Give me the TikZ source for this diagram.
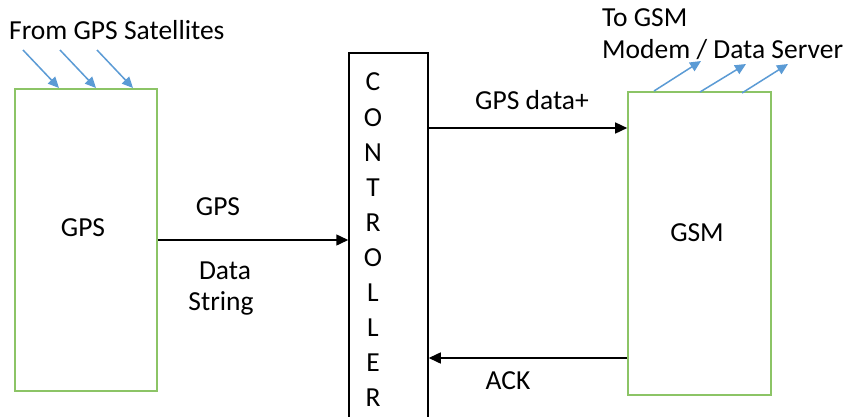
\documentclass[tikz,border=0pt]{standalone}
\usepackage{fontspec}
\setmainfont{Carlito}
\usetikzlibrary{arrows.meta}
\definecolor{boxgreen}{RGB}{140,196,102}
\definecolor{arrblue}{RGB}{91,155,213}
\tikzset{
  gbox/.style={draw=boxgreen, line width=1.6pt, rectangle, inner sep=0pt},
  kbox/.style={draw=black, line width=1.5pt, rectangle, inner sep=0pt},
  arr/.style={draw=black, line width=1.5pt, -{Triangle[length=12pt,width=11pt]}},
  barr/.style={draw=arrblue, line width=1.5pt, -{Triangle[length=11pt,width=10pt]}},
  lbl/.style={font=\fontsize{27.5}{32}\selectfont, inner sep=0pt}
}
\begin{document}
\begin{tikzpicture}[x=1pt,y=-1pt]
\clip (0,0) rectangle (847,416);
\fill[white] (0,0) rectangle (847,416);
% boxes
\node[gbox, minimum width=142pt, minimum height=302pt] (gps) at (86,240) {};
\node[lbl] (gpst) at (83,228) {GPS};
\node[gbox, minimum width=143pt, minimum height=303pt] (gsm) at (699.5,243.5) {};
\node[lbl] (gsmt) at (697,233) {GSM};
\node[kbox, minimum width=79pt, minimum height=380pt] (ctrl) at (388.5,243) {};
\node[lbl, align=center, font=\fontsize{27.5}{35.1}\selectfont] (ctrlt) at (373,240)
  {C\\O\\N\\T\\R\\O\\L\\L\\E\\R};
% connectors
\draw[arr] (gps.east) -- (gps.east -| ctrl.west);
\draw[arr] (ctrl.east |- 0,128) -- (gsm.west |- 0,128);
\draw[arr] (gsm.west |- 0,358) -- (ctrl.east |- 0,358);
% labels
\node[lbl] (l1) at (218,207) {GPS};
\node[lbl] (l2) at (225,271) {Data};
\node[lbl] (l3) at (221,303) {String};
\node[lbl] (l4) at (532,100) {GPS data+};
\node[lbl] (l5) at (508,381) {ACK};
\node[lbl, anchor=west] (l6) at (9,30) {From GPS Satellites};
\node[lbl, anchor=west] (l7) at (602,18) {To GSM};
\node[lbl, anchor=west] (l8) at (602,50) {Modem / Data Server};
% satellite arrows
\coordinate (s1) at (23,50); \coordinate (e1) at (59,88);
\coordinate (s2) at (60,50); \coordinate (e2) at (96,88);
\coordinate (s3) at (97,50); \coordinate (e3) at (133,88);
\draw[barr] (s1) -- (e1);
\draw[barr] (s2) -- (e2);
\draw[barr] (s3) -- (e3);
% outgoing arrows
\coordinate (o1) at (654,91); \coordinate (t1) at (701,61);
\coordinate (o2) at (700,92); \coordinate (t2) at (746,64);
\coordinate (o3) at (742,93); \coordinate (t3) at (788,64);
\draw[barr] (o1) -- (t1);
\draw[barr] (o2) -- (t2);
\draw[barr] (o3) -- (t3);
\end{tikzpicture}
\end{document}
